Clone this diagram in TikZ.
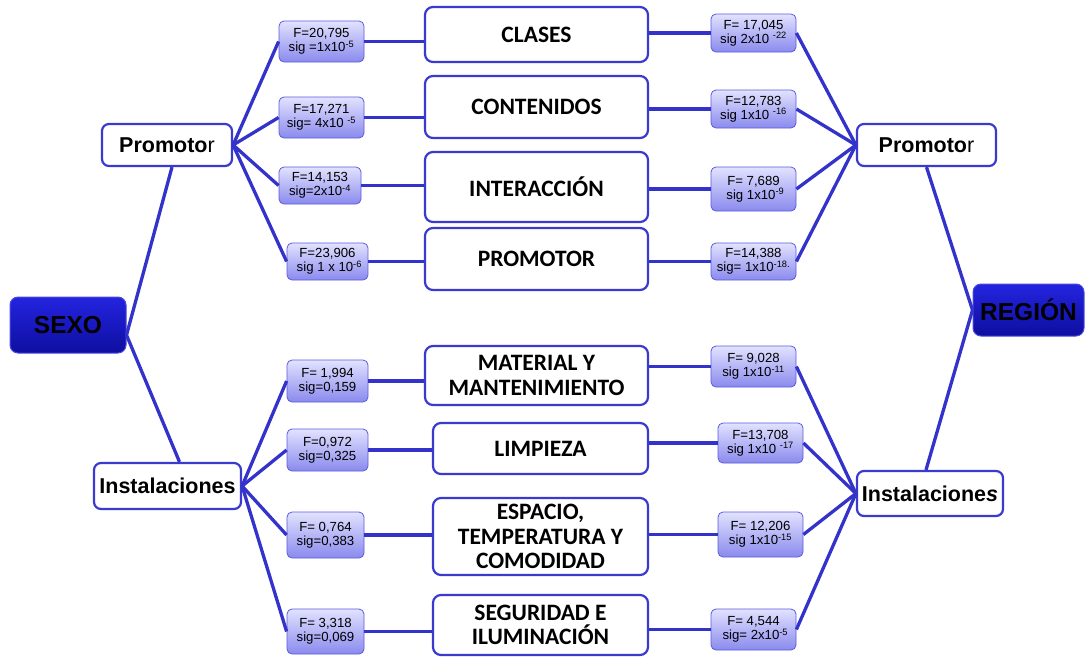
\documentclass[tikz,border=0pt]{standalone}
\usepackage{fontspec}
\setmainfont{Liberation Sans}
\newfontfamily\carlito{Carlito}
\usetikzlibrary{calc}
\definecolor{ln}{HTML}{3333CC}
\definecolor{bd}{HTML}{3A3AD0}
\definecolor{sbd}{HTML}{5A5AE0}
\definecolor{stTop}{HTML}{E2E2FF}
\definecolor{stBot}{HTML}{8A8AEE}
\definecolor{mTop}{HTML}{2424E0}
\definecolor{mBot}{HTML}{0E0EA0}
\definecolor{mbd}{HTML}{4A4AE0}
\begin{document}
\begin{tikzpicture}[x=1pt,y=-1pt,
  cbox/.style={draw=bd, line width=2.2pt, fill=white, rounded corners=8pt,
    font=\carlito\bfseries\fontsize{23.5}{24.3}\selectfont, align=center, inner sep=0pt},
  stat/.style={draw=sbd, line width=0.8pt, top color=stTop, bottom color=stBot,
    rounded corners=5pt, font=\fontsize{13.2}{14}\selectfont, align=center, inner sep=0pt},
  var/.style={draw=bd, line width=2.2pt, fill=white, rounded corners=7pt,
    font=\bfseries\fontsize{21.5}{23}\selectfont, inner sep=0pt},
  mainbox/.style={draw=mbd, line width=1pt, top color=mTop, bottom color=mBot,
    rounded corners=8pt, font=\bfseries\fontsize{24.5}{26}\selectfont, inner sep=0pt},
  conn/.style={draw=ln, line width=3.3pt}]
\useasboundingbox (0,0) rectangle (1085,657);

% central boxes
\node[cbox, minimum width=223pt, minimum height=55pt] (c1) at (536.5,34.5) {CLASES};
\node[cbox, minimum width=223pt, minimum height=62pt] (c2) at (536.5,107) {CONTENIDOS};
\node[cbox, minimum width=223pt, minimum height=70pt] (c3) at (536.5,187) {INTERACCIÓN};
\node[cbox, minimum width=223pt, minimum height=62pt] (c4) at (536.5,259) {PROMOTOR};
\node[cbox, minimum width=223pt, minimum height=59pt] (c5) at (536.5,375.5) {MATERIAL Y\\MANTENIMIENTO};
\node[cbox, minimum width=215pt, minimum height=51pt] (c6) at (540.5,448.5) {LIMPIEZA};
\node[cbox, minimum width=215pt, minimum height=77pt] (c7) at (540.5,536.5) {ESPACIO,\\TEMPERATURA Y\\COMODIDAD};
\node[cbox, minimum width=215pt, minimum height=60pt] (c8) at (540.5,625) {SEGURIDAD E\\ILUMINACIÓN};

% left stats
\node[stat, minimum width=85pt, minimum height=41pt] (l1) at (321.5,41.5) {F=20,795\\sig =1x10\textsuperscript{-5}};
\node[stat, minimum width=85pt, minimum height=41pt] (l2) at (321.5,117.5) {F=17,271\\sig= 4x10 \textsuperscript{-5}};
\node[stat, minimum width=82pt, minimum height=37pt] (l3) at (320,185.5) {F=14,153\\sig=2x10\textsuperscript{-4}};
\node[stat, minimum width=81pt, minimum height=37pt] (l4) at (327.5,261.5) {F=23,906\\\ sig 1 x 10\textsuperscript{-6}};
\node[stat, minimum width=81pt, minimum height=42pt] (l5) at (327.5,381) {F= 1,994\\sig=0,159};
\node[stat, minimum width=81pt, minimum height=42pt] (l6) at (327.5,450) {F=0,972\\sig=0,325};
\node[stat, minimum width=77pt, minimum height=46pt] (l7) at (325.5,535) {F= 0,764\\sig=0,383};
\node[stat, minimum width=77pt, minimum height=45pt] (l8) at (325.5,631.5) {F= 3,318\\sig=0,069};

% right stats
\node[stat, minimum width=85pt, minimum height=38pt] (r1) at (753.5,33) {F= 17,045\\sig 2x10 \textsuperscript{-22}};
\node[stat, minimum width=85pt, minimum height=38pt] (r2) at (753.5,109) {F=12,783\\sig 1x10 \textsuperscript{-16}};
\node[stat, minimum width=85pt, minimum height=44pt] (r3) at (753.5,189) {F= 7,689\\\ sig 1x10\textsuperscript{-9}};
\node[stat, minimum width=85pt, minimum height=37pt] (r4) at (753.5,261.5) {F=14,388\\sig= 1x10\textsuperscript{-18.}};
\node[stat, minimum width=85pt, minimum height=41pt] (r5) at (753.5,366.5) {F= 9,028\\sig 1x10\textsuperscript{-11}};
\node[stat, minimum width=85pt, minimum height=40pt] (r6) at (760.5,443) {F=13,708\\sig 1x10 \textsuperscript{-17}};
\node[stat, minimum width=85pt, minimum height=45pt] (r7) at (760.5,534.5) {F= 12,206\\sig 1x10\textsuperscript{-15}};
\node[stat, minimum width=85pt, minimum height=41pt] (r8) at (753.5,629.5) {F= 4,544\\\ sig= 2x10\textsuperscript{-5}};

% variable boxes
\node[var, minimum width=130pt, minimum height=42pt] (pl) at (167,145) {Promoto{\mdseries r}};
\node[var, minimum width=147pt, minimum height=46pt] (il) at (167.5,486) {Instalaciones};
\node[var, minimum width=139pt, minimum height=42pt] (pr) at (926.5,145) {Promoto{\mdseries r}};
\node[var, minimum width=146pt, minimum height=45pt] (ir) at (930,493.5) {Instalacione{\itshape s}};

\node[mainbox, minimum width=116pt, minimum height=56pt] (sexo) at (68,325) {SEXO};
\node[mainbox, minimum width=111pt, minimum height=52pt] (reg) at (1028.5,310) {REGIÓN};

% connectors
\draw[conn] ($(sexo.east)+(0,10)$) -- ($(pl.south)+(5,0)$);
\draw[conn] ($(sexo.east)+(0,10)$) -- ($(il.north)+(12,0)$);
\foreach \k in {1,2,3,4} {
  \draw[conn] (pl.east) -- (l\k.west);
  \draw[conn] (l\k.east) -- (l\k.east -| c\k.west);
  \draw[conn] (r\k.west -| c\k.east) -- (r\k.west);
  \draw[conn] (r\k.east) -- (pr.west);
}
\foreach \k in {5,6,7,8} {
  \draw[conn] (il.east) -- (l\k.west);
  \draw[conn] (l\k.east) -- (l\k.east -| c\k.west);
  \draw[conn] (r\k.west -| c\k.east) -- (r\k.west);
  \draw[conn] (r\k.east) -- (ir.west);
}
\draw[conn] (pr.south) -- (reg.west);
\draw[conn] (reg.west) -- ($(ir.north)+(-4,0)$);
\end{tikzpicture}
\end{document}
